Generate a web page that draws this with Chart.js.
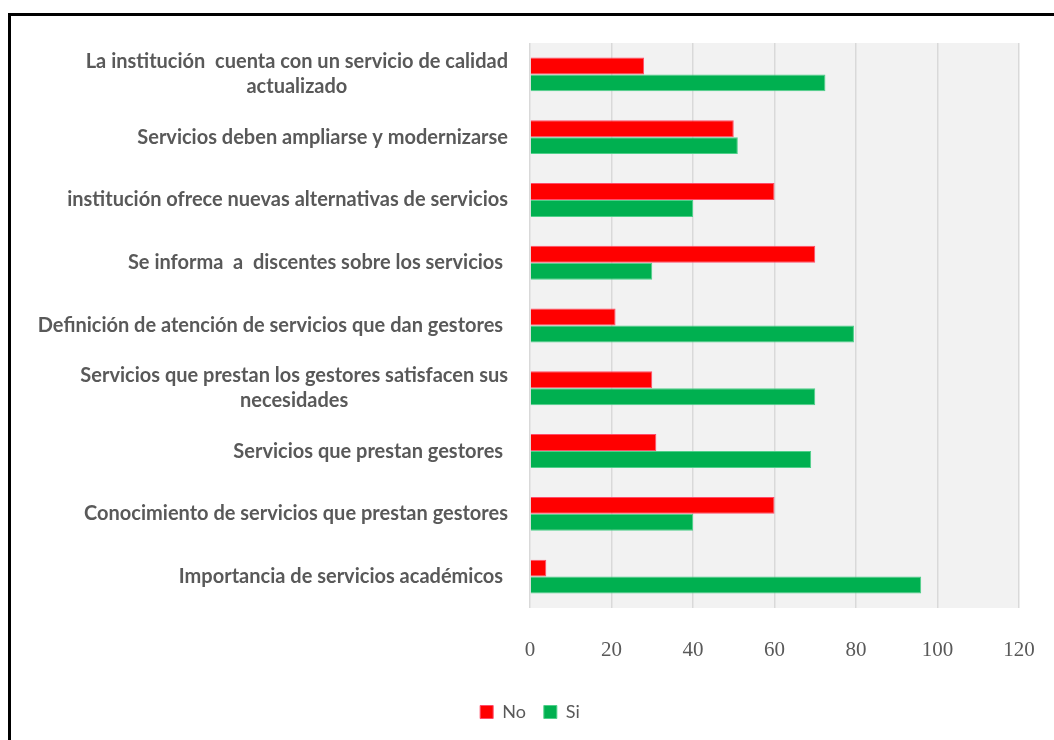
<!DOCTYPE html>
<html lang="es">
<head>
<meta charset="UTF-8">
<title>Servicios - No / Si</title>
<script src="https://cdn.jsdelivr.net/npm/chart.js"></script>
<style>
    html, body {
        margin: 0;
        padding: 0;
        width: 1054px;
        height: 740px;
        overflow: hidden;
        background: #ffffff;
    }
    #chart-container {
        position: absolute;
        left: 0;
        top: 0;
        width: 1054px;
        height: 740px;
    }
    #frame {
        position: absolute;
        left: 8px;
        top: 13px;
        width: 1100px;
        height: 800px;
        border: 3px solid #000;
        pointer-events: none;
    }
</style>
</head>
<body>
<div id="chart-container"><canvas id="chart"></canvas></div>
<div id="frame"></div>

<script>
    const categories = [
        ["La institución  cuenta con un servicio de calidad", "actualizado"],
        ["Servicios deben ampliarse y modernizarse"],
        ["institución ofrece nuevas alternativas de servicios"],
        ["Se informa  a  discentes sobre los servicios "],
        ["Definición de atención de servicios que dan gestores "],
        ["Servicios que prestan los gestores satisfacen sus", "necesidades"],
        ["Servicios que prestan gestores "],
        ["Conocimiento de servicios que prestan gestores"],
        ["Importancia de servicios académicos "]
    ];
    const seriesNo = [28, 50, 60, 70, 21, 30, 31, 60, 4];
    const seriesSi = [72.5, 51, 40, 30, 79.5, 70, 69, 40, 96];
    const xTicks = [0, 20, 40, 60, 80, 100, 120];

    const labelFont = 'bold 20px Lato, "Open Sans", sans-serif';

    // gray plot background
    const plotBackground = {
        id: 'plotBackground',
        beforeDraw(chart) {
            const { ctx, chartArea: a } = chart;
            ctx.save();
            ctx.fillStyle = '#f2f2f2';
            ctx.fillRect(a.left, a.top, a.right - a.left, a.bottom - a.top);
            ctx.restore();
        }
    };

    // category labels: block right aligned, lines centered to each other (like Excel)
    const categoryLabels = {
        id: 'categoryLabels',
        afterDraw(chart) {
            const { ctx } = chart;
            const yScale = chart.scales.y;
            const right = chart.chartArea.left - 22;
            const lineH = 25;
            ctx.save();
            ctx.font = labelFont;
            ctx.fillStyle = '#595959';
            ctx.textBaseline = 'middle';
            ctx.textAlign = 'center';
            categories.forEach((lines, i) => {
                const y = yScale.getPixelForValue(i);
                const maxW = Math.max(...lines.map(l => ctx.measureText(l).width));
                const cx = right - maxW / 2;
                const y0 = y - (lines.length - 1) * lineH / 2;
                lines.forEach((l, j) => ctx.fillText(l, cx, y0 + j * lineH));
            });
            ctx.restore();
        }
    };

    new Chart(document.getElementById('chart'), {
        type: 'bar',
        data: {
            labels: categories.map(c => c.join(' ')),
            datasets: [
                { label: 'No', data: seriesNo, backgroundColor: '#ff0000', borderColor: '#ff4d6a', borderWidth: 1 },
                { label: 'Si', data: seriesSi, backgroundColor: '#00b050', borderColor: '#4fd08a', borderWidth: 1 }
            ]
        },
        options: {
            indexAxis: 'y',
            responsive: true,
            maintainAspectRatio: false,
            animation: false,
            categoryPercentage: 0.54,
            barPercentage: 1.0,
            layout: { padding: { left: 41, right: 35, top: 43, bottom: 9 } },
            scales: {
                x: {
                    min: 0,
                    max: 120,
                    afterBuildTicks(scale) {
                        scale.ticks = xTicks.map(v => ({ value: v }));
                    },
                    afterFit(scale) { scale.height = 77; },
                    grid: {
                        color: '#d9d9d9',
                        lineWidth: 1.5,
                        drawTicks: true,
                        tickLength: 28,
                        tickColor: 'rgba(0,0,0,0)'
                    },
                    border: { display: false },
                    ticks: {
                        padding: 2,
                        color: '#595959',
                        font: { family: '"Liberation Serif", serif', size: 21 }
                    }
                },
                y: {
                    afterFit(scale) { scale.width = 489; },
                    grid: { display: false },
                    border: { display: false },
                    ticks: { display: false }
                }
            },
            plugins: {
                legend: {
                    position: 'bottom',
                    labels: {
                        boxWidth: 13,
                        boxHeight: 13,
                        padding: 18,
                        color: '#595959',
                        font: { family: 'Lato, "Open Sans", sans-serif', size: 18 }
                    }
                },
                tooltip: { enabled: false },
                title: { display: false }
            }
        },
        plugins: [plotBackground, categoryLabels]
    });
</script>
</body>
</html>
